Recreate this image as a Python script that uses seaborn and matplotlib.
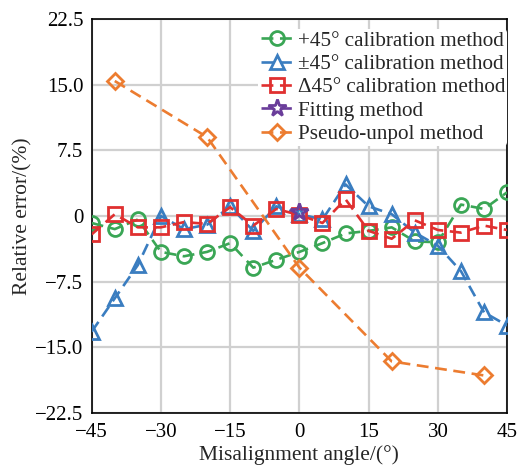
import numpy as np
import pandas as pd
import matplotlib
matplotlib.use("Agg")
import matplotlib.pyplot as plt
import seaborn as sns

angles = [-45, -40, -35, -30, -25, -20, -15, -10, -5, 0, 5, 10, 15, 20, 25, 30, 35, 40, 45]
plus45 = [-0.8, -1.5, -0.4, -4.1, -4.6, -4.1, -3.1, -5.9, -5.0, -4.1, -3.1, -2.0, -1.7, -1.3, -2.9, -3.0, 1.3, 0.8, 2.7]
pm45 = [-13.2, -9.4, -5.6, 0.0, -1.5, -1.0, 1.1, -1.7, 1.1, 0.2, -0.4, 3.6, 1.1, 0.2, -1.9, -3.4, -6.3, -11.0, -12.5]
delta45 = [-2.1, 0.2, -1.3, -1.3, -0.7, -0.9, 1.0, -1.1, 0.8, 0.1, -0.8, 1.9, -1.7, -2.6, -0.5, -1.6, -1.9, -1.1, -1.6]
fit_angles = [0]
fitting = [0.4]
pseudo_angles = [-40, -20, 0, 20, 40]
pseudo = [15.4, 9.0, -5.9, -16.6, -18.2]

labels = ["+45° calibration method", "±45° calibration method", "Δ45° calibration method",
          "Fitting method", "Pseudo-unpol method"]
xticks = [-45, -30, -15, 0, 15, 30, 45]
yticks = [-22.5, -15.0, -7.5, 0, 7.5, 15.0, 22.5]
ytick_labels = ["\u221222.5", "\u221215.0", "\u22127.5", "0", "7.5", "15.0", "22.5"]
xtick_labels = ["\u221245", "\u221230", "\u221215", "0", "15", "30", "45"]

sns.set_style("white")
plt.rcParams["font.family"] = ["Liberation Serif", "DejaVu Serif"]
plt.rcParams["mathtext.fontset"] = "stix"

fig = plt.figure(figsize=(5.18, 4.70), dpi=100)
ax = fig.add_axes([0.177, 0.121, 0.802, 0.839])

series = [
    (angles, plus45, "#3aa655", "o"),
    (angles, pm45, "#3a7dc0", "^"),
    (angles, delta45, "#e03030", "s"),
    (fit_angles, fitting, "#6a3d9a", "*"),
    (pseudo_angles, pseudo, "#ec7c30", "D"),
]
for (xs, ys, c, m), lab in zip(series, labels):
    df = pd.DataFrame({"x": xs, "y": ys})
    ms = 13 if m == "*" else (8.5 if m == "D" else 10)
    sns.lineplot(data=df, x="x", y="y", ax=ax, color=c, marker=m, linestyle=(0, (4.5, 2.5)),
                 linewidth=1.9, markersize=ms, markerfacecolor="none",
                 markeredgecolor=c, markeredgewidth=2.0, label=lab, zorder=3)

ax.set_xlim(-45, 45)
ax.set_ylim(-22.5, 22.5)
ax.set_xticks(xticks)
ax.set_xticklabels(xtick_labels)
ax.set_yticks(yticks)
ax.set_yticklabels(ytick_labels)
ax.grid(True, color="#d0d0d0", linewidth=1.6)
ax.set_axisbelow(True)
for s in ax.spines.values():
    s.set_color("black")
    s.set_linewidth(1.2)
ax.tick_params(direction="in", length=4, width=1, labelsize=15, colors="black")
ax.tick_params(axis="x", pad=7)
ax.tick_params(axis="y", pad=6)
ax.set_xlabel("Misalignment angle/(°)", fontsize=15.5, labelpad=2)
ax.set_ylabel("Relative error/(%)", fontsize=15.5, labelpad=2)

leg = ax.legend(loc="upper right", bbox_to_anchor=(1.0, 0.975), fontsize=15.2, frameon=True,
                facecolor="white", edgecolor="none", framealpha=1, handlelength=1.55,
                handletextpad=0.2, labelspacing=0.17, borderpad=0.1, borderaxespad=0.0)

fig.savefig("out.png", dpi=100)
